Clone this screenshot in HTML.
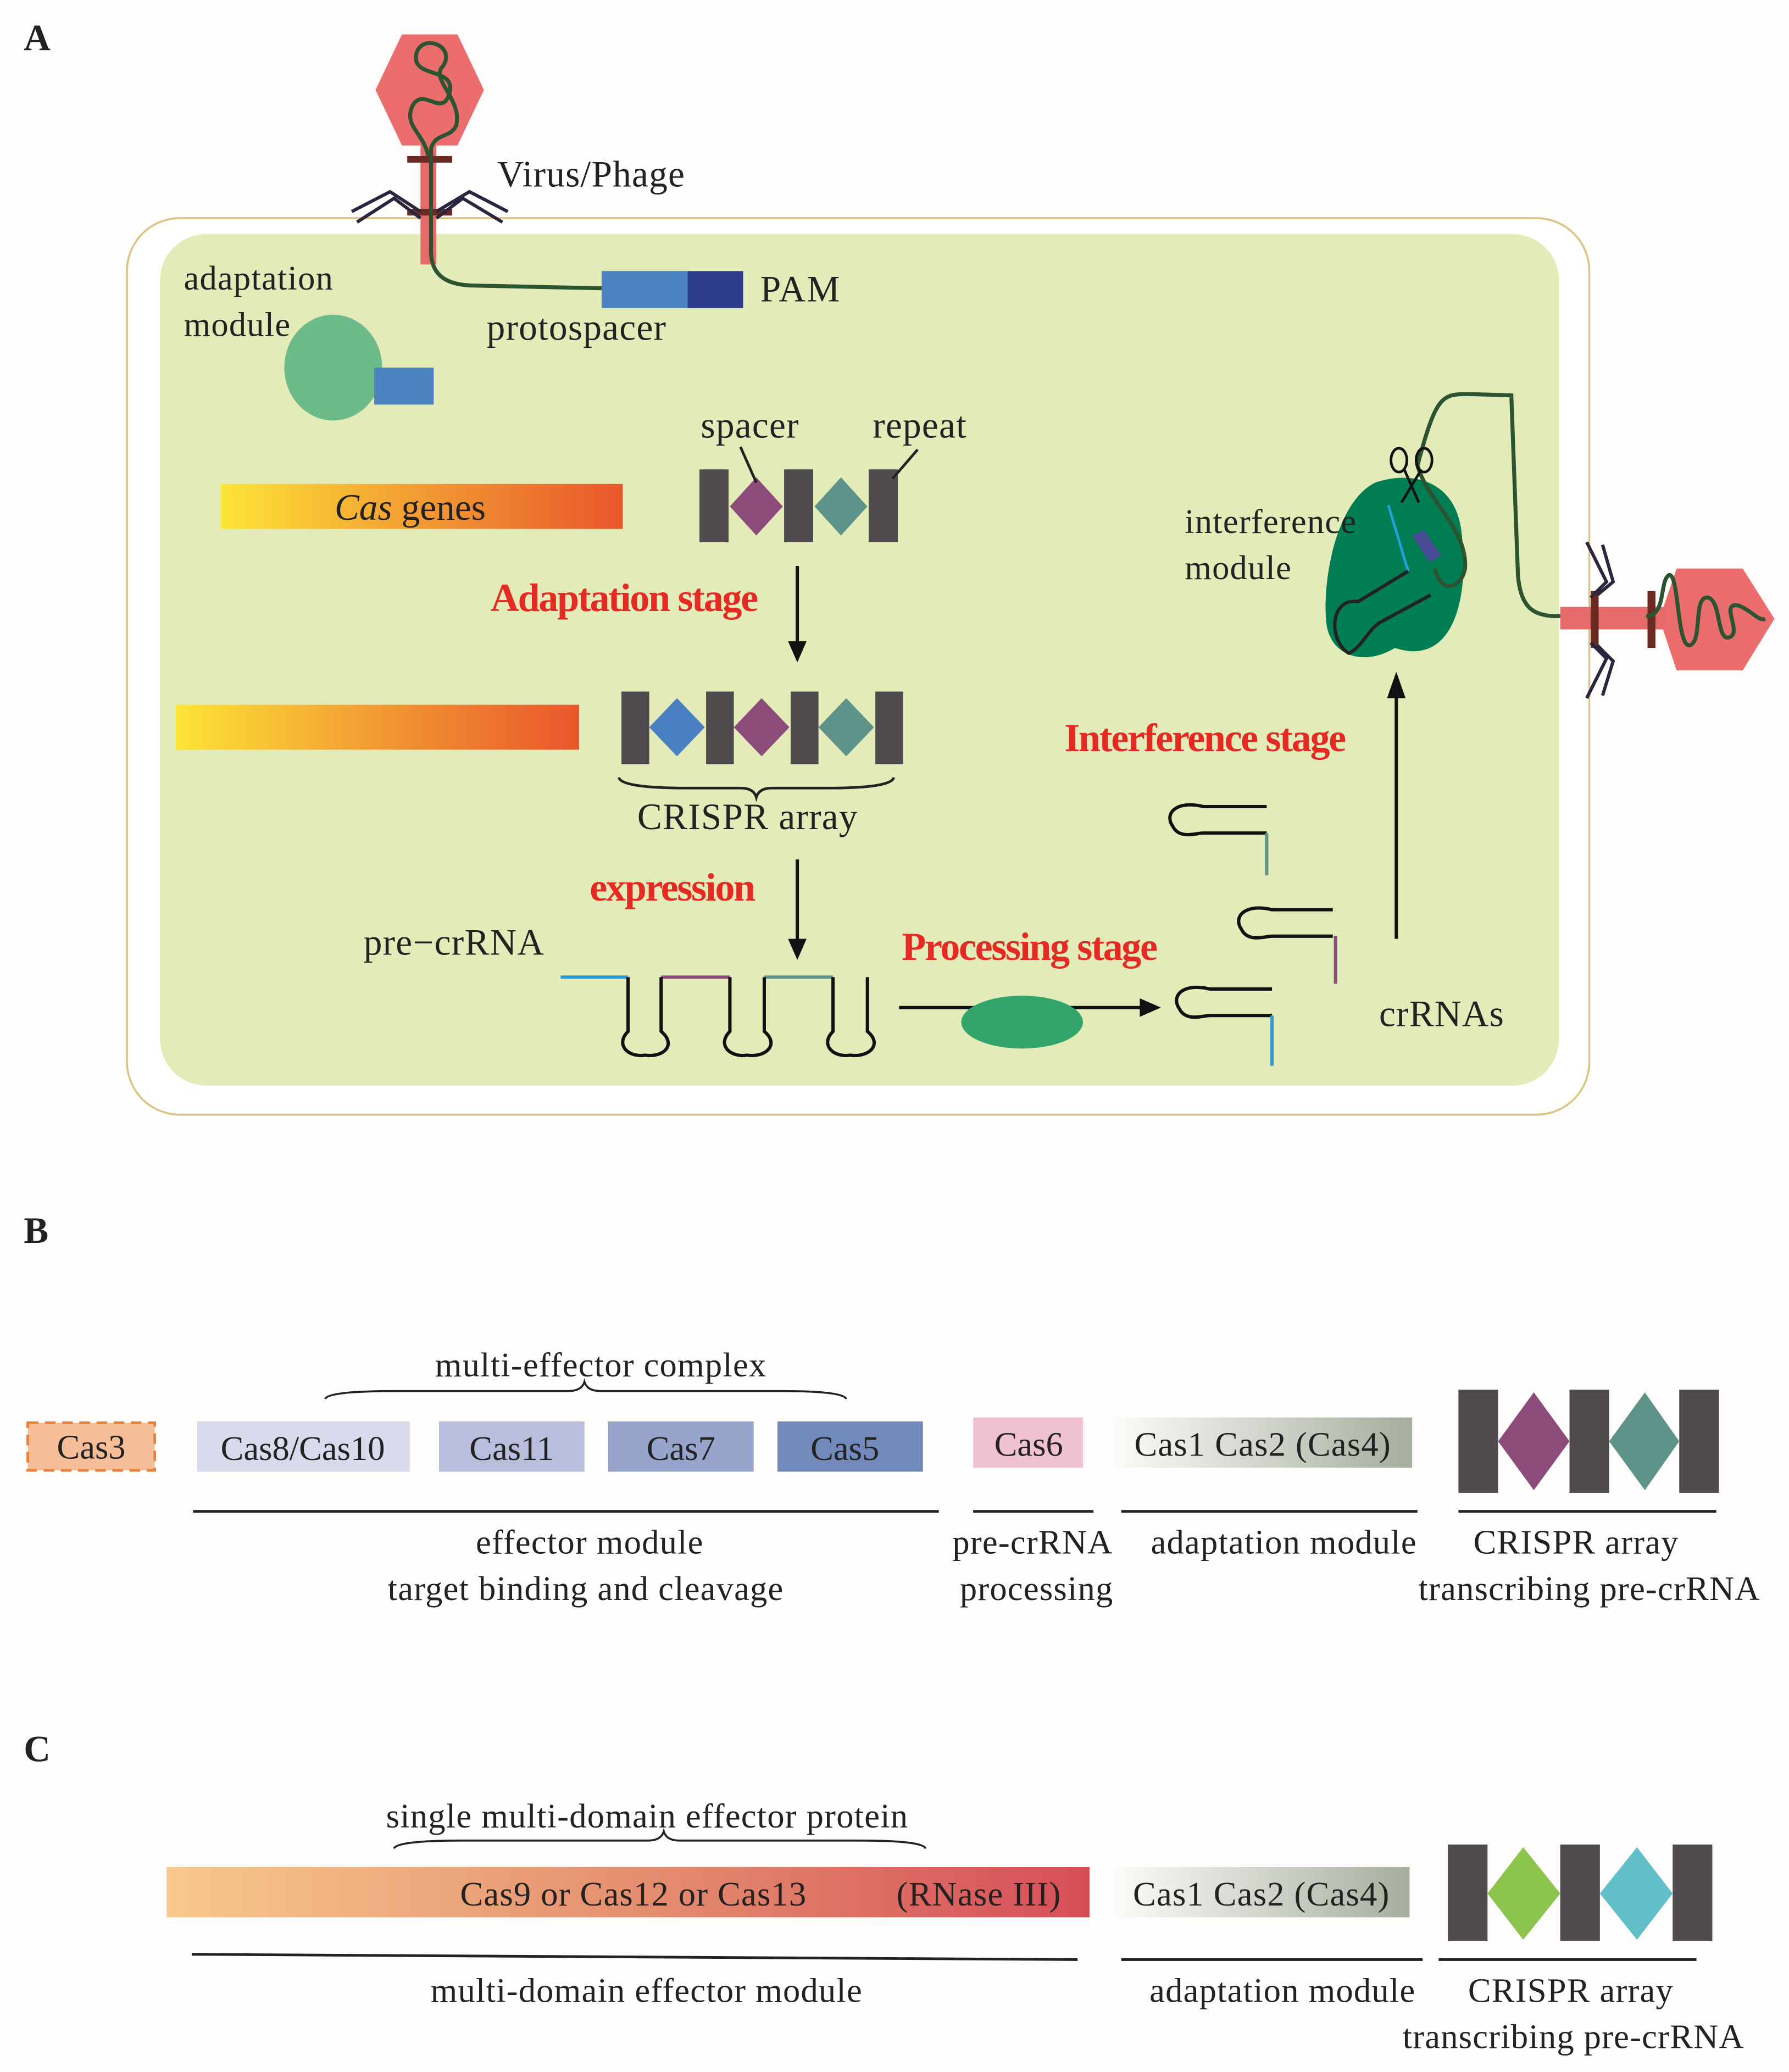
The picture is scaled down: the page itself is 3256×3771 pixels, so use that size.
<!DOCTYPE html>
<html><head><meta charset="utf-8"><style>
html,body{margin:0;padding:0;background:#fefdfb;}
svg{display:block;}
text{font-family:"Liberation Serif",serif;fill:#222;}
.r{fill:#e52a24;font-weight:bold;font-size:30px;letter-spacing:-1px;}
</style></head><body>
<svg width="3256" height="3771" viewBox="0 0 1353 1567" preserveAspectRatio="none" xmlns="http://www.w3.org/2000/svg">
<defs>
<linearGradient id="cg" x1="0" x2="1"><stop offset="0" stop-color="#fde436"/><stop offset="0.5" stop-color="#f29a33"/><stop offset="1" stop-color="#e9562b"/></linearGradient>
<linearGradient id="c1" x1="0" x2="1"><stop offset="0" stop-color="#fbfbf8"/><stop offset="1" stop-color="#a6ae9f"/></linearGradient>
<linearGradient id="c9" x1="0" x2="1"><stop offset="0" stop-color="#f8c88c"/><stop offset="0.5" stop-color="#e59070"/><stop offset="1" stop-color="#d64e58"/></linearGradient>
</defs>
<rect width="1360" height="1575" fill="#fefdfb"/>
<text x="18" y="38" font-size="28" font-weight="bold">A</text>
<text x="18" y="940" font-size="28" font-weight="bold">B</text>
<text x="18" y="1332" font-size="28" font-weight="bold">C</text>

<rect x="96" y="165" width="1106" height="678" rx="40" fill="#fffffd" stroke="#dcc486" stroke-width="1.5"/>
<rect x="121" y="177" width="1058" height="644" rx="35" fill="#e3ebb9"/>

<polygon points="304,26 346,26 366,68 346,110 304,110 284,68" fill="#ec6d6e"/>
<rect x="318" y="110" width="12" height="90" fill="#e56b6b"/>
<rect x="308" y="118" width="34" height="5" fill="#6a2a22"/>
<rect x="308" y="158" width="34" height="5" fill="#6a2a22"/>
<path d="M318,160 L295,145 L266,160 M318,165 L298,150 L270,168 M330,160 L355,145 L384,160 M330,165 L350,150 L380,168" stroke="#2c2540" stroke-width="2.5" fill="none"/>
<path d="M324,118 C320,100 305,95 312,80 C320,65 335,90 340,70 C345,50 310,60 315,40 C320,25 345,35 335,50 C325,60 350,75 345,95 C340,105 330,100 326,112 L326,190 C326,210 340,216 360,216 L455,218" stroke="#2d5430" stroke-width="3" fill="none"/>
<text x="376" y="141" font-size="28" letter-spacing="0.5">Virus/Phage</text>
<rect x="455" y="205" width="65" height="28" fill="#4c82c2"/>
<rect x="520" y="205" width="42" height="28" fill="#2f3d8e"/>
<text x="575" y="228" font-size="28" letter-spacing="1">PAM</text>
<text x="368" y="257" font-size="28" letter-spacing="0.5">protospacer</text>

<text x="139" y="219" font-size="26" fill="#333" letter-spacing="0.5">adaptation</text>
<ellipse cx="252" cy="278" rx="37" ry="40" fill="#6dba8a"/>
<rect x="283" y="278" width="45" height="28" fill="#4c82c2"/>
<text x="139" y="254" font-size="26" fill="#333" letter-spacing="0.5">module</text>

<rect x="167" y="366" width="304" height="34" fill="url(#cg)"/>
<text x="253" y="393" font-size="28"><tspan font-style="italic">Cas</tspan> genes</text>

<text x="530" y="331" font-size="28" letter-spacing="0.5">spacer</text>
<text x="660" y="331" font-size="28" letter-spacing="0.5">repeat</text>
<rect x="529" y="355" width="22" height="55" fill="#4f4b4e"/>
<rect x="593" y="355" width="22" height="55" fill="#4f4b4e"/>
<rect x="657" y="355" width="22" height="55" fill="#4f4b4e"/>
<polygon points="572,361 592,383 572,405 552,383" fill="#8b4c7a"/>
<polygon points="636,361 656,383 636,405 616,383" fill="#5e9389"/>
<path d="M560,338 L572,365 M694,340 L675,362" stroke="#222" stroke-width="2"/>

<text x="371" y="462" class="r">Adaptation stage</text>
<path d="M603,428 L603,490" stroke="#111" stroke-width="2.5"/><polygon points="596,485 610,485 603,501" fill="#111"/>

<rect x="133" y="533" width="305" height="34" fill="url(#cg)"/>
<rect x="470" y="523" width="21" height="55" fill="#4f4b4e"/>
<rect x="534" y="523" width="21" height="55" fill="#4f4b4e"/>
<rect x="598" y="523" width="21" height="55" fill="#4f4b4e"/>
<rect x="662" y="523" width="21" height="55" fill="#4f4b4e"/>
<polygon points="512,528 533,550 512,572 491,550" fill="#4a7fc1"/>
<polygon points="576,528 597,550 576,572 555,550" fill="#8b4c7a"/>
<polygon points="640,528 661,550 640,572 619,550" fill="#5e9389"/>
<path d="M468,588 Q470,596 520,596 L560,596 Q570,596 572,603 Q574,596 584,596 L626,596 Q674,596 676,588" stroke="#222" stroke-width="2" fill="none"/>
<text x="482" y="627" font-size="28" letter-spacing="0.5">CRISPR array</text>

<text x="446" y="681" class="r">expression</text>
<path d="M603,650 L603,715" stroke="#111" stroke-width="2.5"/><polygon points="596,710 610,710 603,726" fill="#111"/>
<text x="275" y="722" font-size="28" letter-spacing="0.5">pre−crRNA</text>

<path d="M424,739 L475,739" stroke="#2f9ad2" stroke-width="2.5"/>
<path d="M500,739 L552,739" stroke="#8b4c7a" stroke-width="2.5"/>
<path d="M578,739 L630,739" stroke="#5e9389" stroke-width="2.5"/>
<path d="M475,739 L475,780 C465,790 475,800 488,798 C502,800 512,790 500,780 L500,739 M552,739 L552,780 C542,790 552,800 565,798 C579,800 590,790 578,780 L578,739 M630,739 L630,780 C620,790 630,800 643,798 C657,800 668,790 656,780 L656,739" stroke="#111" stroke-width="2.5" fill="none"/>

<text x="682" y="726" class="r">Processing stage</text>
<path d="M680,762 L868,762" stroke="#111" stroke-width="2.5"/><polygon points="862,755 878,762 862,769" fill="#111"/>
<ellipse cx="773" cy="773" rx="46" ry="20" fill="#34a56a"/>

<g stroke="#111" stroke-width="2.5" fill="none">
<path d="M958,610 L910,610 C890,605 880,615 887,625 C892,635 905,630 910,630 L958,630"/>
<path d="M1008,688 L962,688 C942,683 932,693 939,703 C944,713 957,708 962,708 L1008,708"/>
<path d="M962,748 L915,748 C895,743 885,753 892,763 C897,773 910,768 915,768 L962,768"/>
</g>
<path d="M958,630 L958,662" stroke="#5e9389" stroke-width="2.5"/>
<path d="M1010,708 L1010,744" stroke="#8b4c7a" stroke-width="2.5"/>
<path d="M962,768 L962,806" stroke="#2f9ad2" stroke-width="2.5"/>
<text x="1043" y="776" font-size="28" letter-spacing="0.5">crRNAs</text>
<path d="M1056,710 L1056,523" stroke="#111" stroke-width="2.5"/><polygon points="1049,528 1063,528 1056,508" fill="#111"/>
<text x="805" y="568" class="r">Interference stage</text>

<path d="M1055,490 C1030,505 1005,495 1003,470 C1000,440 1010,380 1040,365 C1070,355 1100,365 1105,400 C1112,450 1100,505 1055,490 Z" fill="#017d53"/>
<text x="896" y="403" font-size="26" fill="#333" letter-spacing="0.5">interference</text>
<text x="896" y="438" font-size="26" fill="#333" letter-spacing="0.5">module</text>
<path d="M1072,352 C1086,300 1090,298 1110,298 L1143,299 L1148,435 C1150,460 1160,465 1175,466 L1245,466" stroke="#2d5430" stroke-width="3" fill="none"/>
<path d="M1072,352 C1080,380 1110,400 1108,430 C1105,445 1090,450 1085,430" stroke="#2d5430" stroke-width="3" fill="none"/>
<polygon points="1068,405 1077,401 1090,420 1081,425" fill="#464b94"/>
<path d="M1050,382 L1065,432" stroke="#1ea3dc" stroke-width="2"/>
<path d="M1065,432 L1027,455 C1005,452 1005,485 1020,494 C1030,490 1035,475 1045,470 L1082,450" stroke="#222" stroke-width="2.5" fill="none"/>
<path d="M1062,355 L1073,380 M1075,355 L1060,380" stroke="#111" stroke-width="2"/>
<ellipse cx="1058" cy="348" rx="6" ry="9" stroke="#111" stroke-width="2" fill="none"/>
<ellipse cx="1077" cy="348" rx="6" ry="9" stroke="#111" stroke-width="2" fill="none"/>

<polygon points="1268,430 1318,430 1342,468 1318,507 1268,507 1255,468" fill="#ec6d6e"/>
<rect x="1180" y="459" width="80" height="17" fill="#e56b6b"/>
<rect x="1203" y="447" width="6" height="43" fill="#6a2a22"/>
<rect x="1246" y="447" width="6" height="43" fill="#6a2a22"/>
<path d="M1203,452 L1215,440 L1200,410 M1208,450 L1220,440 L1212,412 M1203,486 L1215,498 L1200,528 M1208,488 L1220,500 L1212,526" stroke="#2c2540" stroke-width="2.5" fill="none"/>
<path d="M1245,466 C1260,466 1255,440 1262,435 C1270,432 1268,490 1278,488 C1288,485 1280,450 1292,452 C1302,455 1298,485 1308,482 C1318,478 1300,455 1315,458 C1325,462 1330,470 1335,468" stroke="#2d5430" stroke-width="3" fill="none"/>

<text x="329" y="1041" font-size="26" fill="#333" letter-spacing="0.5">multi-effector complex</text>
<path d="M246,1058 Q248,1052 300,1052 L430,1052 Q440,1052 442,1045 Q444,1052 454,1052 L590,1052 Q638,1052 640,1058" stroke="#222" stroke-width="1.5" fill="none"/>
<rect x="21" y="1076" width="96" height="36" fill="#f6be97" stroke="#e8823a" stroke-width="2" stroke-dasharray="8,5"/>
<text x="69" y="1103" font-size="26" fill="#444" text-anchor="middle">Cas3</text>
<rect x="149" y="1075" width="161" height="38" fill="#d9dbed"/><text x="229" y="1104" font-size="26" fill="#444" text-anchor="middle">Cas8/Cas10</text>
<rect x="332" y="1075" width="110" height="38" fill="#b8bedc"/><text x="387" y="1104" font-size="26" fill="#444" text-anchor="middle">Cas11</text>
<rect x="460" y="1075" width="110" height="38" fill="#97a5cc"/><text x="515" y="1104" font-size="26" fill="#444" text-anchor="middle">Cas7</text>
<rect x="588" y="1075" width="110" height="38" fill="#7189bb"/><text x="639" y="1104" font-size="26" fill="#444" text-anchor="middle">Cas5</text>
<rect x="736" y="1072" width="83" height="38" fill="#f0c0d3"/><text x="778" y="1101" font-size="26" fill="#444" text-anchor="middle">Cas6</text>
<rect x="843" y="1072" width="225" height="38" fill="url(#c1)"/><text x="955" y="1101" font-size="26" fill="#444" text-anchor="middle" letter-spacing="0.5">Cas1 Cas2 (Cas4)</text>
<rect x="1103" y="1051" width="30" height="78" fill="#4f4b4e"/>
<rect x="1187" y="1051" width="30" height="78" fill="#4f4b4e"/>
<rect x="1270" y="1051" width="30" height="78" fill="#4f4b4e"/>
<polygon points="1160,1053 1187,1090 1160,1127 1133,1090" fill="#8b4c7a"/>
<polygon points="1244,1053 1270,1090 1244,1127 1217,1090" fill="#5e9389"/>
<g stroke="#222" stroke-width="2"><path d="M146,1143 L710,1143 M736,1143 L827,1143 M848,1143 L1072,1143 M1103,1143 L1298,1143"/></g>
<g font-size="26" fill="#333" text-anchor="middle" letter-spacing="0.5">
<text x="446" y="1175">effector module</text>
<text x="443" y="1210">target binding and cleavage</text>
<text x="781" y="1175">pre-crRNA</text>
<text x="784" y="1210">processing</text>
<text x="971" y="1175">adaptation module</text>
<text x="1192" y="1175">CRISPR array</text>
<text x="1202" y="1210">transcribing pre-crRNA</text>
</g>

<text x="292" y="1382" font-size="26" fill="#333" letter-spacing="0.5">single multi-domain effector protein</text>
<path d="M298,1398 Q300,1392 350,1392 L490,1392 Q500,1392 502,1385 Q504,1392 514,1392 L650,1392 Q698,1392 700,1398" stroke="#222" stroke-width="1.5" fill="none"/>
<rect x="126" y="1412" width="698" height="38" fill="url(#c9)"/>
<text x="348" y="1441" font-size="26" fill="#444" letter-spacing="0.5">Cas9 or Cas12 or Cas13</text>
<text x="678" y="1441" font-size="26" fill="#444" letter-spacing="0.5">(RNase III)</text>
<rect x="843" y="1412" width="223" height="38" fill="url(#c1)"/><text x="954" y="1441" font-size="26" fill="#444" text-anchor="middle" letter-spacing="0.5">Cas1 Cas2 (Cas4)</text>
<rect x="1095" y="1395" width="30" height="73" fill="#4f4b4e"/>
<rect x="1180" y="1395" width="30" height="73" fill="#4f4b4e"/>
<rect x="1265" y="1395" width="30" height="73" fill="#4f4b4e"/>
<polygon points="1152,1397 1180,1432 1152,1467 1125,1432" fill="#8dc44e"/>
<polygon points="1238,1397 1265,1432 1238,1467 1210,1432" fill="#62bec9"/>
<g stroke="#222" stroke-width="2"><path d="M145,1478 L815,1482 M848,1482 L1076,1482 M1088,1482 L1283,1482"/></g>
<g font-size="26" fill="#333" text-anchor="middle" letter-spacing="0.5">
<text x="489" y="1514">multi-domain effector module</text>
<text x="970" y="1514">adaptation module</text>
<text x="1188" y="1514">CRISPR array</text>
<text x="1190" y="1549">transcribing pre-crRNA</text>
</g>
</svg>
</body></html>
